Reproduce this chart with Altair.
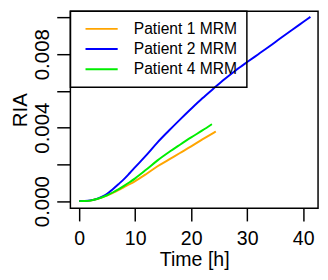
import altair as alt
import pandas as pd

series_names = ["Patient 1 MRM", "Patient 2 MRM", "Patient 4 MRM"]
series_colors = ["#FFA500", "#0000FF", "#00EE00"]

p1_t = [0, 1, 2, 3, 4, 5, 6, 7, 8, 9, 10, 12, 14, 16, 18, 20, 22, 24, 24.4]
p1_v = [0, 0.000005, 0.00003, 0.0001, 0.0002, 0.00031, 0.00045, 0.0006, 0.00076, 0.00092,
        0.00109, 0.00148, 0.0019, 0.00226, 0.00262, 0.00298, 0.00336, 0.00372, 0.00379]

p2_t = [0, 1, 2, 3, 4, 5, 6, 7, 8, 9, 10, 12, 14, 16, 18, 20, 22, 24, 26, 28, 30, 32, 34,
        36, 38, 40, 41.3]
p2_v = [0, 0.00001, 0.00004, 0.00011, 0.00023, 0.0004, 0.00065, 0.00092, 0.0012, 0.00152,
        0.00185, 0.0025, 0.0032, 0.00383, 0.00444, 0.00503, 0.0056, 0.00613, 0.00665,
        0.00713, 0.00757, 0.008, 0.00843, 0.00888, 0.00932, 0.00975, 0.01003]

p4_t = [0, 1, 2, 3, 4, 5, 6, 7, 8, 9, 10, 12, 14, 16, 18, 20, 22, 23.7]
p4_v = [0, 0.000005, 0.00003, 0.0001, 0.0002, 0.00032, 0.00047, 0.00064, 0.00083, 0.00103,
        0.00124, 0.00172, 0.00222, 0.00266, 0.00307, 0.00347, 0.00385, 0.00419]

x_ticks = [0, 10, 20, 30, 40]
y_ticks = [0, 0.002, 0.004, 0.006, 0.008, 0.010]

rows = []
for name, ts, vs in zip(series_names, [p1_t, p2_t, p4_t], [p1_v, p2_v, p4_v]):
    for i, (t, v) in enumerate(zip(ts, vs)):
        rows.append({"series": name, "time": t, "ria": v, "order": i})
df = pd.DataFrame(rows)

FONT = "Liberation Sans"

chart = alt.Chart(df).mark_line(strokeWidth=2, clip=True, interpolate="monotone").encode(
    x=alt.X("time:Q", scale=alt.Scale(domain=[-1.567, 42.66], nice=False, zero=False),
            axis=alt.Axis(values=x_ticks, title="Time [h]", tickSize=13, domain=False,
                          grid=False, labelFontSize=20, titleFontSize=20, labelPadding=8,
                          titlePadding=2, labelFont=FONT, titleFont=FONT,
                          tickColor="black", tickWidth=1.5, labelColor="black",
                          titleColor="black", titleFontWeight="normal", labelFlush=False)),
    y=alt.Y("ria:Q", scale=alt.Scale(domain=[-0.000387, 0.010334], nice=False, zero=False),
            axis=alt.Axis(values=y_ticks, format=".3f", title="RIA", tickSize=14, domain=False,
                          grid=False, labelFontSize=21, titleFontSize=21, labelAngle=270,
                          labelAlign="center", labelBaseline="alphabetic", labelPadding=8,
                          titlePadding=2, labelFont=FONT, titleFont=FONT,
                          tickColor="black", tickWidth=1.5, labelColor="black",
                          titleColor="black", titleFontWeight="normal", labelFlush=False)),
    color=alt.Color("series:N", scale=alt.Scale(domain=series_names, range=series_colors),
                    legend=alt.Legend(title=None, orient="none", legendX=0, legendY=0,
                                      symbolType="M-2.357,0L2.357,0", symbolSize=196,
                                      symbolStrokeWidth=2, symbolOffset=14, labelOffset=25,
                                      labelFontSize=16, labelFont=FONT, labelColor="black",
                                      rowPadding=4.7, padding=10, strokeColor="black",
                                      labelLimit=300)),
    order="order:Q",
).properties(
    width=254, height=202,
    autosize=alt.AutoSizeParams(type="none"),
    padding={"left": 64, "top": 0, "right": 2, "bottom": 62},
).configure_view(
    stroke="black", strokeWidth=1.5
).configure_legend(
    strokeWidth=1.5
)

chart.save("out.html", embed_options={"renderer": "svg", "actions": False})
